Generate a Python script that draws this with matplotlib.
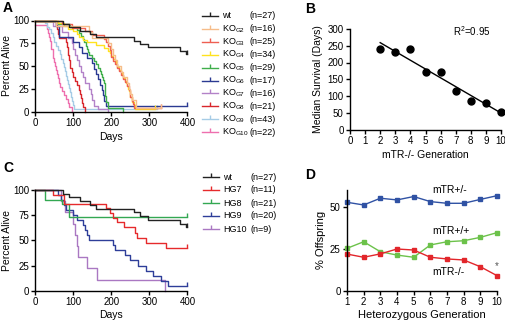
import matplotlib
matplotlib.use("Agg")
import numpy as np
import matplotlib.pyplot as plt
from matplotlib.lines import Line2D
from matplotlib.path import Path
from matplotlib.transforms import Affine2D

plt.rcParams['font.family'] = ['Liberation Sans', 'DejaVu Sans']
plt.rcParams['mathtext.default'] = 'regular'

# ---- panel A: survival of KO generations (day, percent alive) ----
wt_days = [0, 72, 88, 118, 143, 160, 258, 275, 295, 380, 395]
wt_pct = [100, 96.3, 92.6, 88.9, 85.2, 81.5, 77.8, 74.1, 70.4, 66.7, 63.0]
wt_end = 400

g2_days = [0, 55, 140, 150, 190, 200, 205, 210, 215, 225, 230, 240, 245, 250, 255, 265]
g2_pct = [100, 93.8, 87.5, 81.3, 75, 68.8, 62.5, 56.3, 50, 43.8, 37.5, 31.3, 25, 18.8, 12.5, 4]
g2_end = 330

g3_days = [0, 70, 95, 130, 150, 180, 185, 190, 195, 200, 205, 210, 215, 220, 225, 230,
           235, 240, 245, 248, 250, 253, 256, 260]
g3_pct = [100, 96, 92, 88, 84, 80, 76, 72, 68, 60, 56, 52, 48, 44, 40, 36,
          32, 28, 24, 20, 16, 12, 8, 4]
g3_end = 330

g4_days = [0, 60, 75, 85, 100, 110, 115, 125, 135, 160, 180, 190, 195, 200, 205, 210,
           213, 215, 220, 225, 228, 230, 235, 238, 240, 243, 245, 248, 250, 253, 255,
           258, 262]
g4_pct = [100, 97, 94, 91, 88, 85, 82, 79, 76, 73, 70, 67, 64, 61, 58, 55,
          52, 49, 46, 43, 40, 37, 34, 31, 28, 25, 22, 19, 16, 13, 10, 7, 3]
g4_end = 315

g5_days = [0, 60, 90, 110, 115, 120, 125, 128, 132, 135, 138, 142, 148, 155, 160, 165,
           170, 172, 175, 178, 180, 182, 184, 186, 190, 230]
g5_pct = [100, 96.5, 93.1, 89.7, 86.2, 82.8, 79.3, 75.9, 72.4, 69, 65.5, 62.1, 58.6,
          55.2, 51.7, 48.3, 44.8, 41.4, 37.9, 34.5, 31, 24.1, 17.2, 10.3, 3.4, 0]
g5_end = 230

g6_days = [0, 55, 62, 100, 115, 122, 135, 148, 155, 160, 165, 170, 175, 178, 180, 185]
g6_pct = [100, 94.1, 82.4, 76.5, 70.6, 64.7, 58.8, 52.9, 47.1, 41.2, 35.3, 29.4,
          23.5, 17.6, 11.8, 5.9]
g6_end = 400

g7_days = [0, 45, 70, 85, 95, 100, 105, 110, 115, 120, 125, 130, 140, 145, 150, 155, 165, 190]
g7_pct = [100, 93.8, 87.5, 81.3, 75, 68.8, 62.5, 56.3, 50, 43.8, 37.5, 31.3, 25,
          18.8, 12.5, 6.3, 3.1, 0]
g7_end = 190

g8_days = [0, 55, 57, 60, 62, 80, 82, 85, 86, 88, 90, 92, 95, 100, 105, 110, 115, 118,
           120, 122, 125, 130]
g8_pct = [100, 95.2, 90.5, 85.7, 81, 76.2, 71.4, 66.7, 61.9, 57.1, 52.4, 47.6, 42.9,
          38.1, 33.3, 28.6, 23.8, 19, 14.3, 9.5, 4.8, 0]
g8_end = 130

g9_days = [0, 25, 30, 35, 40, 45, 50, 55, 60, 65, 68, 72, 75, 78, 80, 83, 86, 88, 90,
           93, 96, 99, 102]
g9_pct = [100, 97.7, 93, 90.7, 86, 81.4, 76.7, 72.1, 67.4, 62.8, 58.1, 53.5, 48.8,
          44.2, 39.5, 34.9, 30.2, 25.6, 20.9, 16.3, 11.6, 7, 2.3]
g9_end = 320

g10_days = [0, 30, 33, 36, 38, 40, 42, 45, 47, 50, 52, 55, 57, 60, 63, 65, 70, 75, 80,
            85, 88, 95]
g10_pct = [95.5, 90.9, 86.4, 81.8, 77.3, 72.7, 68.2, 63.6, 59.1, 54.5, 50, 45.5, 40.9,
           36.4, 31.8, 27.3, 22.7, 18.2, 13.6, 9.1, 4.5, 0]
g10_end = 95

a_names = ['wt', 'KO$_{G2}$', 'KO$_{G3}$', 'KO$_{G4}$', 'KO$_{G5}$', 'KO$_{G6}$',
           'KO$_{G7}$', 'KO$_{G8}$', 'KO$_{G9}$', 'KO$_{G10}$']
a_n = ['(n=27)', '(n=16)', '(n=25)', '(n=34)', '(n=29)', '(n=17)', '(n=16)',
       '(n=21)', '(n=43)', '(n=22)']

# ---- panel B: median survival vs generation ----
b_gen = [2, 3, 4, 5, 6, 7, 8, 9, 10]
b_median = [240, 232, 240, 172, 172, 115, 85, 80, 52]

# ---- panel C: heterozygous-derived generations ----
hg7_days = [0, 47, 74, 185, 197, 205, 215, 232, 263, 268, 290, 343]
hg7_pct = [100, 95.5, 86.4, 81.8, 77, 72, 68.5, 63.6, 57, 52, 47.7, 42]
hg7_end = 400

hg8_days = [0, 25, 69, 87]
hg8_pct = [100, 90.5, 86, 73]
hg8_end = 400

hg9_days = [0, 60, 68, 75, 80, 100, 110, 125, 130, 135, 140, 205, 210, 235, 250, 270,
            290, 310, 330, 350]
hg9_pct = [100, 95, 90, 85, 80, 75, 70, 65, 60, 55, 50, 45, 40, 35, 30, 25, 20, 15, 10, 5]
hg9_end = 400

hg10_days = [0, 68, 78, 100, 103, 108, 112, 135, 162, 342]
hg10_pct = [100, 88.9, 77.8, 66.7, 55.6, 44.4, 33.3, 22.2, 11.1, 0]
hg10_end = 342

c_names = ['wt', 'HG7', 'HG8', 'HG9', 'HG10']
c_n = ['(n=27)', '(n=11)', '(n=21)', '(n=20)', '(n=9)']

# ---- panel D: offspring genotype ratios ----
d_gen = [1, 2, 3, 4, 5, 6, 7, 8, 9, 10]
d_het = [52.6, 51, 55, 54, 56, 53, 52, 52, 54.3, 56.5]
d_wt = [25.3, 29.2, 23.3, 21.3, 20, 27.3, 29.2, 29.8, 31.8, 34.6]
d_ko = [21.9, 20, 22, 24.9, 24.3, 20, 19, 18.4, 14.4, 9.1]

a_colors = ['#222222', '#F6BD8A', '#EE5F52', '#FFE21F', '#3FAE4B', '#2B3A92',
            '#B382C8', '#D8262C', '#A6CCE6', '#EE6FAE']
c_colors = ['#222222', '#E62A2C', '#33A852', '#2E3E99', '#AA78C2']

# upward censor tick
tick = Path([(0, 0), (0, 1)], [Path.MOVETO, Path.LINETO])

fig = plt.figure(figsize=(5.06, 3.25), dpi=100)
px = Affine2D().scale(1 / 506, -1 / 325).translate(0, 1) + fig.transFigure


def prism(ax):
    for s in ['top', 'right']:
        ax.spines[s].set_visible(False)
    for s in ['left', 'bottom']:
        ax.spines[s].set_linewidth(1.0)
    ax.tick_params(direction='out', length=3, width=1, labelsize=7, pad=1.5)


def km(ax, days, pct, end, color):
    x = list(days) + [end]
    y = list(pct) + [pct[-1]]
    ax.step(x, y, where='post', color=color, lw=1, clip_on=False)
    if pct[-1] > 0:
        ax.plot([end], [pct[-1]], marker=tick, ms=6, mew=1, color=color, clip_on=False)


def legend(names, ns, colors, x0, y0, dy):
    for i, (nm, n, col) in enumerate(zip(names, ns, colors)):
        y = y0 + i * dy
        fig.add_artist(Line2D([x0, x0 + 16], [y, y], transform=px, color=col, lw=1))
        fig.add_artist(Line2D([x0 + 8], [y], transform=px, marker=tick, ms=6, mew=1,
                              color=col))
        fig.text(x0 + 20, y, nm, transform=px, va='center', fontsize=6.5)
        fig.text(x0 + 48, y, n, transform=px, va='center', fontsize=6.5)


# A
axA = fig.add_axes([35.5 / 506, 1 - 111.5 / 325, 152 / 506, 91 / 325])
prism(axA)
curvesA = [(wt_days, wt_pct, wt_end), (g2_days, g2_pct, g2_end), (g3_days, g3_pct, g3_end),
           (g4_days, g4_pct, g4_end), (g5_days, g5_pct, g5_end), (g6_days, g6_pct, g6_end),
           (g7_days, g7_pct, g7_end), (g8_days, g8_pct, g8_end), (g9_days, g9_pct, g9_end),
           (g10_days, g10_pct, g10_end)]
for (d, p, e), col in zip(curvesA[::-1], a_colors[::-1]):
    km(axA, d, p, e, col)
axA.set_xlim(0, 400)
axA.set_ylim(0, 100)
axA.set_xticks([0, 100, 200, 300, 400])
axA.set_yticks([0, 25, 50, 75, 100])
axA.set_xlabel('Days', fontsize=7.5, labelpad=3)
axA.set_ylabel('Percent Alive', fontsize=7.5, labelpad=1)
legend(a_names, a_n, a_colors, 202, 16, 12.9)

# B
axB = fig.add_axes([350 / 506, 1 - 129.5 / 325, 151 / 506, 100.5 / 325])
prism(axB)
axB.plot(b_gen, b_median, 'o', color='black', ms=5, clip_on=False)
slope, icpt = np.polyfit(b_gen, b_median, 1)
xs = np.array([b_gen[0], b_gen[-1]])
axB.plot(xs, slope * xs + icpt, color='black', lw=1)
axB.set_xlim(0, 10)
axB.set_ylim(0, 300)
axB.set_xticks(range(0, 11))
axB.set_yticks(range(0, 301, 50))
axB.set_xlabel('mTR-/- Generation', fontsize=7.5, labelpad=3)
axB.set_ylabel('Median Survival (Days)', fontsize=7.5, labelpad=3)
axB.text(6.8, 280, 'R$^{2}$=0.95', fontsize=7)

# C
axC = fig.add_axes([35.5 / 506, 1 - 290.7 / 325, 152 / 506, 100.7 / 325])
prism(axC)
curvesC = [(wt_days, wt_pct, wt_end), (hg7_days, hg7_pct, hg7_end),
           (hg8_days, hg8_pct, hg8_end), (hg9_days, hg9_pct, hg9_end),
           (hg10_days, hg10_pct, hg10_end)]
for (d, p, e), col in zip(curvesC[::-1], c_colors[::-1]):
    km(axC, d, p, e, col)
axC.set_xlim(0, 400)
axC.set_ylim(0, 100)
axC.set_xticks([0, 100, 200, 300, 400])
axC.set_yticks([0, 25, 50, 75, 100])
axC.set_xlabel('Days', fontsize=7.5, labelpad=2)
axC.set_ylabel('Percent Alive', fontsize=7.5, labelpad=1)
legend(c_names, c_n, c_colors, 203, 177, 13)

# D
axD = fig.add_axes([347 / 506, 1 - 291 / 325, 150 / 506, 101.2 / 325])
prism(axD)
axD.plot(d_gen, d_het, '-s', color='#3052A4', ms=3.5, lw=1, clip_on=False)
axD.plot(d_gen, d_wt, '-s', color='#6CC24A', ms=3.5, lw=1, clip_on=False)
axD.plot(d_gen, d_ko, '-s', color='#E2262B', ms=3.5, lw=1, clip_on=False)
axD.set_xlim(1, 10)
axD.set_ylim(0, 60)
axD.set_xticks(d_gen)
axD.set_yticks([0, 25, 50])
axD.set_xlabel('Heterozygous Generation', fontsize=8, labelpad=2)
axD.set_ylabel('% Offspring', fontsize=8, labelpad=3)
axD.text(6.1, 58, 'mTR+/-', fontsize=7.5)
axD.text(6.1, 33.5, 'mTR+/+', fontsize=7.5)
axD.text(6.1, 9.5, 'mTR-/-', fontsize=7.5)
axD.text(10, 13, '*', fontsize=7, ha='center', color='#555555')

for lab, x, y in [('A', 3, 8), ('B', 305, 9), ('C', 3, 168), ('D', 305, 175)]:
    fig.text(x, y, lab, transform=px, fontsize=10, fontweight='bold', va='center')

fig.savefig('out.png', dpi=100)
